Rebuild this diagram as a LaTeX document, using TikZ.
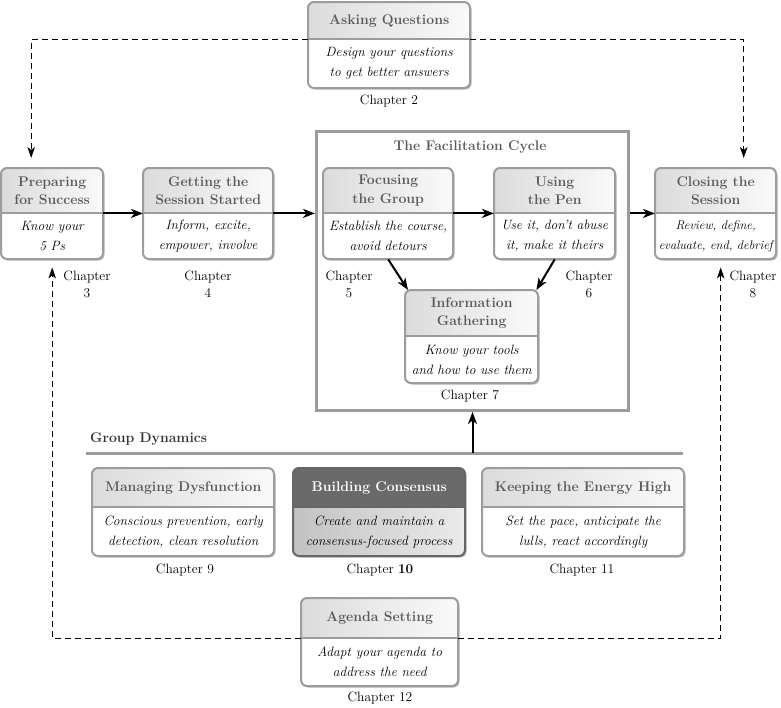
\documentclass[tikz,border=0pt]{standalone}
\usepackage{amsmath}
\usepackage{xcolor}
\usepackage{tikz}
\usetikzlibrary{arrows.meta,calc,positioning}
\definecolor{framegray}{HTML}{9C9C9C}
\definecolor{headgray}{HTML}{5A5A5A}
\definecolor{darkhead}{HTML}{6A6A6A}
\definecolor{shadegray}{HTML}{B8B8B8}

\tikzset{
  plain head/.style={left color=black!14,right color=black!2},
  plain body/.style={fill=white},
  plain line/.style={draw=framegray,line width=2pt},
  plain title/.style={inner sep=1pt,align=center,text=headgray,
    font=\fontsize{14}{18.5}\selectfont\bfseries},
  plain text/.style={inner sep=1pt,align=center,
    font=\fontsize{13.5}{20}\selectfont\itshape},
  dark head/.style={fill=darkhead},
  dark body/.style={left color=black!24,right color=black!8},
  dark line/.style={draw=black!60,line width=2pt},
  dark title/.style={plain title,text=white},
  dark text/.style={plain text},
  boxshade/.style={fill=shadegray},
  chap/.style={align=center,inner sep=1pt,font=\fontsize{13.5}{17}\selectfont},
  flow/.style={-{Stealth[length=12pt,width=9pt,inset=3.5pt]},line width=2pt},
  loopline/.style={dash pattern=on 6pt off 4pt,line width=1pt,
    -{Stealth[length=11pt,width=7.5pt,inset=3pt]}},
  grayrule/.style={draw=framegray,line width=3pt}
}

% name, left, top, width, head height, body height, title, text
\newcommand{\facbox}[9][plain]{%
  \coordinate (#2-nw) at (#3,#4);
  \coordinate (#2-dv) at (#3+#5,#4+#6);
  \coordinate (#2-se) at (#3+#5,#4+#6+#7);
  \fill[boxshade,rounded corners=6pt] (#3+1.5,#4+1.5) rectangle (#3+#5+1.5,#4+#6+#7+1.5);
  \begin{scope}
    \clip[rounded corners=6pt] (#2-nw) rectangle (#2-se);
    \path[#1 body] (#2-nw) rectangle (#2-se);
    \path[#1 head] (#2-nw) rectangle (#2-dv);
  \end{scope}
  \draw[#1 line,rounded corners=6pt] (#2-nw) rectangle (#2-se);
  \draw[#1 line] (#3,#4+#6) -- (#2-dv);
  \node[#1 title,minimum width=#5pt,minimum height=#6pt,anchor=north west] (#2-t) at (#2-nw) {#8};
  \node[#1 text,minimum width=#5pt,minimum height=#7pt,anchor=north west] (#2-b) at (#3,#4+#6) {#9};
}

\begin{document}
\begin{tikzpicture}[x=1pt,y=-1pt]
    \useasboundingbox (0,0) rectangle (781,707);

    \node[draw=framegray,line width=3pt,minimum width=312pt,minimum height=279pt,
          anchor=north west,inner sep=0] (faccycle) at (315,130) {};
    \node[plain title] (cycletitle) at (470,147) {The Facilitation Cycle};

    \facbox{ask}{308}{2}{162}{37}{49}{Asking Questions}{Design your questions\\to get better answers}
    \facbox{prep}{1}{168}{102}{45}{46}{Preparing\\for Success}{Know your\\5 Ps}
    \facbox{getstart}{143}{168}{130}{45}{46}{Getting the\\Session Started}{Inform, excite,\\empower, involve}
    \facbox{focus}{323}{168}{130}{45}{46}{Focusing\\the Group}{Establish the course,\\avoid detours}
    \facbox{pen}{494}{168}{121}{45}{46}{Using\\the Pen}{Use it, don't abuse\\it, make it theirs}
    \facbox{info}{405}{290}{133}{46}{47}{Information\\Gathering}{Know your tools\\and how to use them}
    \facbox{close}{655}{168}{121}{45}{46}{Closing the\\Session}{\fontsize{12.5}{20}\selectfont Review, define,\\\fontsize{12.5}{20}\selectfont evaluate, end, debrief}

    \facbox{dysf}{92}{468}{182}{39}{49}{Managing Dysfunction}{Conscious prevention, early\\detection, clean resolution}
    \facbox[dark]{consensus}{293}{468}{172}{39}{49}{Building Consensus}{Create and maintain a\\consensus-focused process}
    \facbox{energy}{482}{468}{202}{39}{49}{Keeping the Energy High}{Set the pace, anticipate the\\lulls, react accordingly}
    \facbox{agenda}{301}{598}{157}{40}{48}{Agenda Setting}{Adapt your agenda to\\address the need}

    \node[chap] (ch2) at (389,101) {Chapter 2};
    \node[chap] (ch3) at (87,284) {Chapter\\3};
    \node[chap] (ch4) at (208,284) {Chapter\\4};
    \node[chap] (ch5) at (349,284) {Chapter\\5};
    \node[chap] (ch6) at (589,284) {Chapter\\6};
    \node[chap] (ch7) at (470,396) {Chapter 7};
    \node[chap] (ch8) at (753,284) {Chapter\\8};
    \node[chap] (ch9) at (185,570) {Chapter 9};
    \node[chap] (ch10) at (380,570) {Chapter \textbf{10}};
    \node[chap] (ch11) at (582,570) {Chapter 11};
    \node[chap] (ch12) at (380,698) {Chapter 12};

    \node[plain title,text=black!80,anchor=west] (gdtitle) at (89,439) {Group Dynamics};
    \coordinate (gdl) at (86,453);
    \coordinate (gdr) at (683,453);
    \draw[grayrule] (gdl) -- (gdr);

    \draw[flow] (prep-t.south east) -- (getstart-t.south west);
    \draw[flow] (getstart-t.south east) -- (faccycle.west |- getstart-t.south);
    \draw[flow] (focus-t.south east) -- (pen-t.south west);
    \draw[flow] (faccycle.east |- close-t.south) -- (close-t.south west);
    \draw[flow] (focus-b.south) -- ([xshift=3pt]info-t.north west);
    \draw[flow] (pen-b.south) -- ([xshift=-2pt]info-t.north east);
    \draw[flow] (faccycle.south |- gdl) -- (faccycle.south);

    \draw[loopline,shorten >=10pt] (ask-t.south west) -| ([xshift=-21pt]prep-t.north);
    \draw[loopline,shorten >=10pt] (ask-t.south east) -| ([xshift=28pt]close-t.north);
    \draw[loopline,shorten >=8pt] (agenda-t.south west) -| (prep-b.south);
    \draw[loopline,shorten >=8pt] (agenda-t.south east) -| ([xshift=5pt]close-b.south);
\end{tikzpicture}
\end{document}
